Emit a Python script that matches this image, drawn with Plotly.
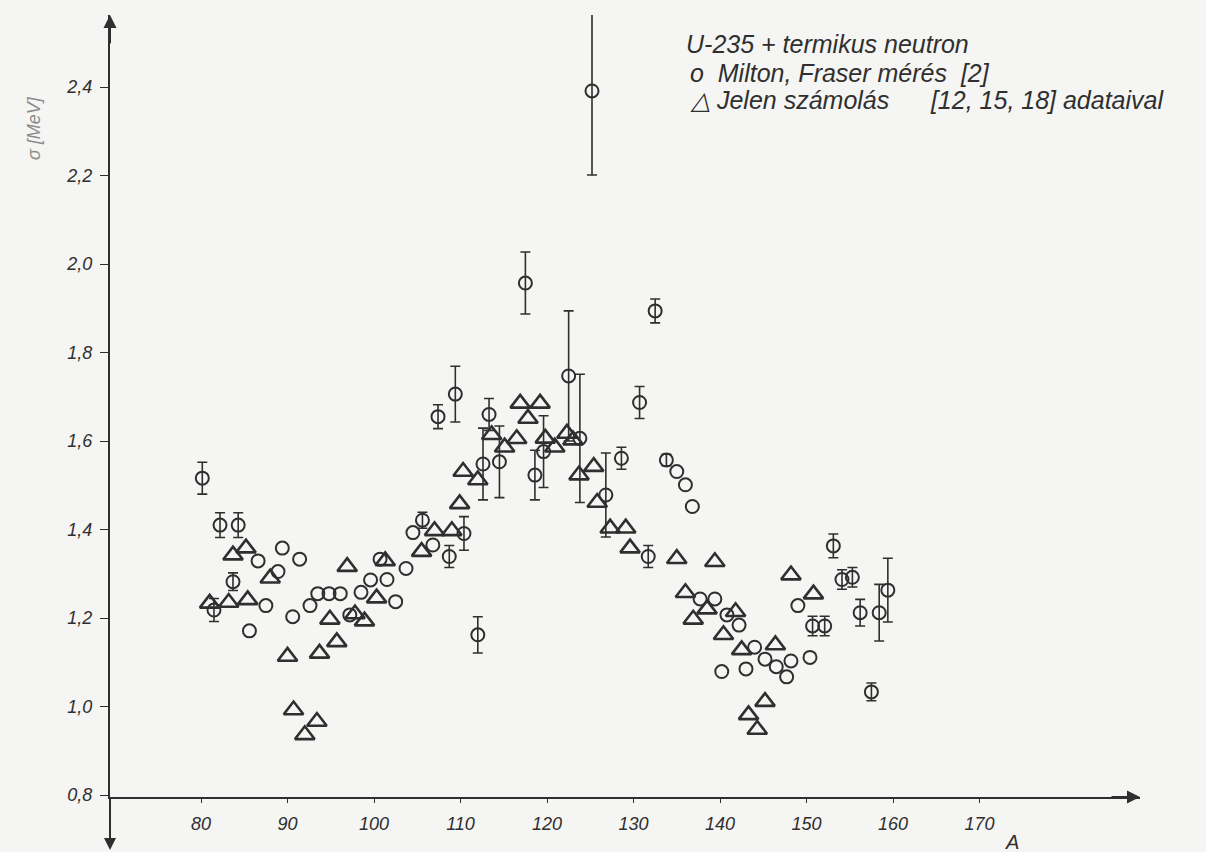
import plotly.graph_objects as go

# Milton, Fraser measurement (circles): mass number A, sigma value, error
mf_A = [80.15, 82.2, 84.3, 83.7, 86.6, 89.4, 91.4, 88.9, 81.5, 87.5, 85.6, 90.6, 92.6,
        93.5, 94.8, 96.1, 98.5, 97.2, 99.6, 101.5, 100.7, 102.5, 103.7, 104.5, 105.6,
        106.8, 108.7, 110.4, 107.4, 109.4, 112.0, 112.6, 113.3, 114.5, 117.5, 118.6,
        119.6, 122.5, 123.8, 125.2, 126.8, 128.6, 130.7, 131.7, 132.5, 133.8, 135.0,
        136.0, 136.8, 137.7, 139.4, 140.8, 142.2, 140.2, 143.0, 144.0, 145.2, 146.5,
        148.2, 147.7, 150.4, 149.0, 150.7, 152.1, 153.1, 154.1, 155.3, 156.2, 158.4,
        159.4, 157.5]
mf_v = [1.516, 1.410, 1.410, 1.282, 1.329, 1.358, 1.333, 1.305, 1.218, 1.228, 1.171,
        1.203, 1.228, 1.255, 1.255, 1.255, 1.258, 1.207, 1.286, 1.287, 1.333, 1.237,
        1.312, 1.393, 1.421, 1.365, 1.339, 1.391, 1.655, 1.706, 1.162, 1.548, 1.660,
        1.553, 1.957, 1.523, 1.576, 1.747, 1.606, 2.391, 1.478, 1.561, 1.687, 1.339,
        1.894, 1.557, 1.531, 1.501, 1.452, 1.243, 1.243, 1.207, 1.184, 1.079, 1.085,
        1.134, 1.107, 1.090, 1.103, 1.067, 1.111, 1.228, 1.182, 1.182, 1.363, 1.287,
        1.292, 1.212, 1.212, 1.263, 1.033]
mf_err = [0.036, 0.028, 0.028, 0.020, 0, 0, 0, 0, 0.026, 0, 0, 0, 0,
          0, 0, 0, 0, 0, 0, 0, 0, 0, 0, 0, 0.018,
          0, 0.025, 0.038, 0.027, 0.063, 0.041, 0.081, 0.036, 0.081, 0.070, 0.056,
          0.081, 0.147, 0.145, 0.190, 0.095, 0.025, 0.036, 0.025, 0.027, 0.013, 0,
          0, 0, 0, 0, 0, 0, 0, 0, 0, 0, 0,
          0, 0, 0, 0, 0.022, 0.022, 0.027, 0.022, 0.022, 0.030, 0.064,
          0.072, 0.020]

# Present calculation (triangles)
calc_A = [81.0, 83.2, 85.4, 83.7, 85.2, 88.0, 90.0, 90.7, 92.0, 93.4, 93.7, 94.9, 95.7,
          96.9, 97.8, 98.9, 100.3, 101.3, 105.5, 107.0, 109.0, 109.9, 110.3, 112.0,
          113.6, 115.1, 116.5, 116.9, 119.2, 117.8, 119.8, 120.9, 122.3, 123.0, 123.7,
          125.4, 125.8, 127.3, 129.1, 129.6, 135.0, 139.4, 136.0, 138.5, 136.9, 141.8,
          140.4, 142.5, 146.4, 148.2, 150.8, 145.2, 143.3, 144.3]
calc_v = [1.233, 1.235, 1.241, 1.342, 1.358, 1.290, 1.113, 0.992, 0.936, 0.966, 1.120,
          1.197, 1.146, 1.316, 1.209, 1.193, 1.245, 1.329, 1.350, 1.397, 1.397, 1.458,
          1.531, 1.512, 1.614, 1.586, 1.605, 1.685, 1.685, 1.651, 1.606, 1.586, 1.617,
          1.602, 1.523, 1.542, 1.461, 1.403, 1.403, 1.358, 1.334, 1.327, 1.257, 1.220,
          1.197, 1.214, 1.162, 1.128, 1.139, 1.297, 1.254, 1.011, 0.981, 0.948]

x_ticks = [80, 90, 100, 110, 120, 130, 140, 150, 160, 170]
y_ticks = [0.8, 1.0, 1.2, 1.4, 1.6, 1.8, 2.0, 2.2, 2.4]
y_ticktext = ["0,8", "1,0", "1,2", "1,4", "1,6", "1,8", "2,0", "2,2", "2,4"]

ink = "#2f2f2f"
bg = "#f5f5f3"
font_family = "Liberation Sans, Arial, sans-serif"

W, H = 1206, 852
ML, MR, MT, MB = 110, 66, 15, 55
PW, PH = W - ML - MR, H - MT - MB


def px_to_paper(px, py):
    return (px - ML) / PW, (H - MB - py) / PH


fig = go.Figure()

eA = [a for a, e in zip(mf_A, mf_err) if e > 0]
ev = [v for v, e in zip(mf_v, mf_err) if e > 0]
ee = [e for e in mf_err if e > 0]
nA = [a for a, e in zip(mf_A, mf_err) if e == 0]
nv = [v for v, e in zip(mf_v, mf_err) if e == 0]

circle_marker = dict(symbol="circle-open", size=13, color=ink, line=dict(width=2, color=ink))
fig.add_trace(go.Scatter(
    x=eA, y=ev, mode="markers", marker=circle_marker,
    error_y=dict(type="data", array=ee, visible=True, color=ink, thickness=1.6, width=5),
    showlegend=False, hoverinfo="x+y"))
fig.add_trace(go.Scatter(
    x=nA, y=nv, mode="markers", marker=circle_marker,
    showlegend=False, hoverinfo="x+y"))
fig.add_trace(go.Scatter(
    x=calc_A, y=calc_v, mode="markers",
    marker=dict(symbol="triangle-up-open", size=17, color=ink, line=dict(width=2.6, color=ink)),
    showlegend=False, hoverinfo="x+y"))

tick_font = dict(family=font_family, size=18, color=ink, style="italic")

fig.update_xaxes(
    range=[69.48, 188.55], showgrid=False, zeroline=False,
    showline=True, linecolor=ink, linewidth=2,
    tickvals=x_ticks, ticktext=[str(t) for t in x_ticks],
    ticks="outside", ticklen=4, tickwidth=1.2, tickcolor=ink,
    tickfont=tick_font, ticklabelstandoff=5)
fig.update_yaxes(
    range=[0.7955, 2.5627], showgrid=False, zeroline=False,
    showline=True, linecolor=ink, linewidth=2,
    tickvals=y_ticks, ticktext=y_ticktext,
    ticks="outside", ticklen=8, tickwidth=1.2, tickcolor=ink,
    tickfont=tick_font, ticklabelstandoff=4)

ann_font = dict(family=font_family, size=25, color=ink, style="italic")
legend_lines = [
    (684, 44, "U-235 + termikus neutron"),
    (688, 73, "o  Milton, Fraser mérés  [2]"),
    (688, 100, "△ Jelen számolás      [12, 15, 18] adataival"),
]
for lx, ly, txt in legend_lines:
    xp, yp = px_to_paper(lx, ly)
    fig.add_annotation(x=xp, y=yp, xref="paper", yref="paper", text=txt,
                       showarrow=False, xanchor="left", yanchor="middle", font=ann_font)

# axis label "A"
xp, yp = px_to_paper(1012, 842)
fig.add_annotation(x=xp, y=yp, xref="paper", yref="paper", text="A",
                   showarrow=False, font=dict(family=font_family, size=20, color=ink, style="italic"),
                   xanchor="center", yanchor="middle")
# faded y label
xp, yp = px_to_paper(34, 128)
fig.add_annotation(x=xp, y=yp, xref="paper", yref="paper", text="σ [MeV]",
                   showarrow=False, textangle=-90,
                   font=dict(family=font_family, size=18, color="#8a8a8a", style="italic"),
                   xanchor="center", yanchor="middle")

# axis arrows
fig.add_annotation(x=0, y=1, xref="paper", yref="paper", ax=0, ay=30, text="",
                   showarrow=True, arrowhead=2, arrowsize=1.3, arrowwidth=2, arrowcolor=ink)
fig.add_annotation(x=1, y=0, xref="paper", yref="paper", ax=-30, ay=0, text="",
                   showarrow=True, arrowhead=2, arrowsize=1.3, arrowwidth=2, arrowcolor=ink)
# y axis continues below the x axis, ending in a downward arrow
xb, yb = px_to_paper(110, 850)
fig.add_annotation(x=0, y=yb, xref="paper", yref="paper", ax=0, ay=-53, text="",
                   showarrow=True, arrowhead=2, arrowsize=1.2, arrowwidth=2, arrowcolor=ink)

fig.update_layout(
    width=W, height=H,
    margin=dict(l=ML, r=MR, t=MT, b=MB),
    paper_bgcolor=bg, plot_bgcolor=bg,
    showlegend=False)

fig.write_html("out.html", config={"displayModeBar": False},
               post_script="document.body.style.margin='0px';document.body.style.background='%s';" % bg)
